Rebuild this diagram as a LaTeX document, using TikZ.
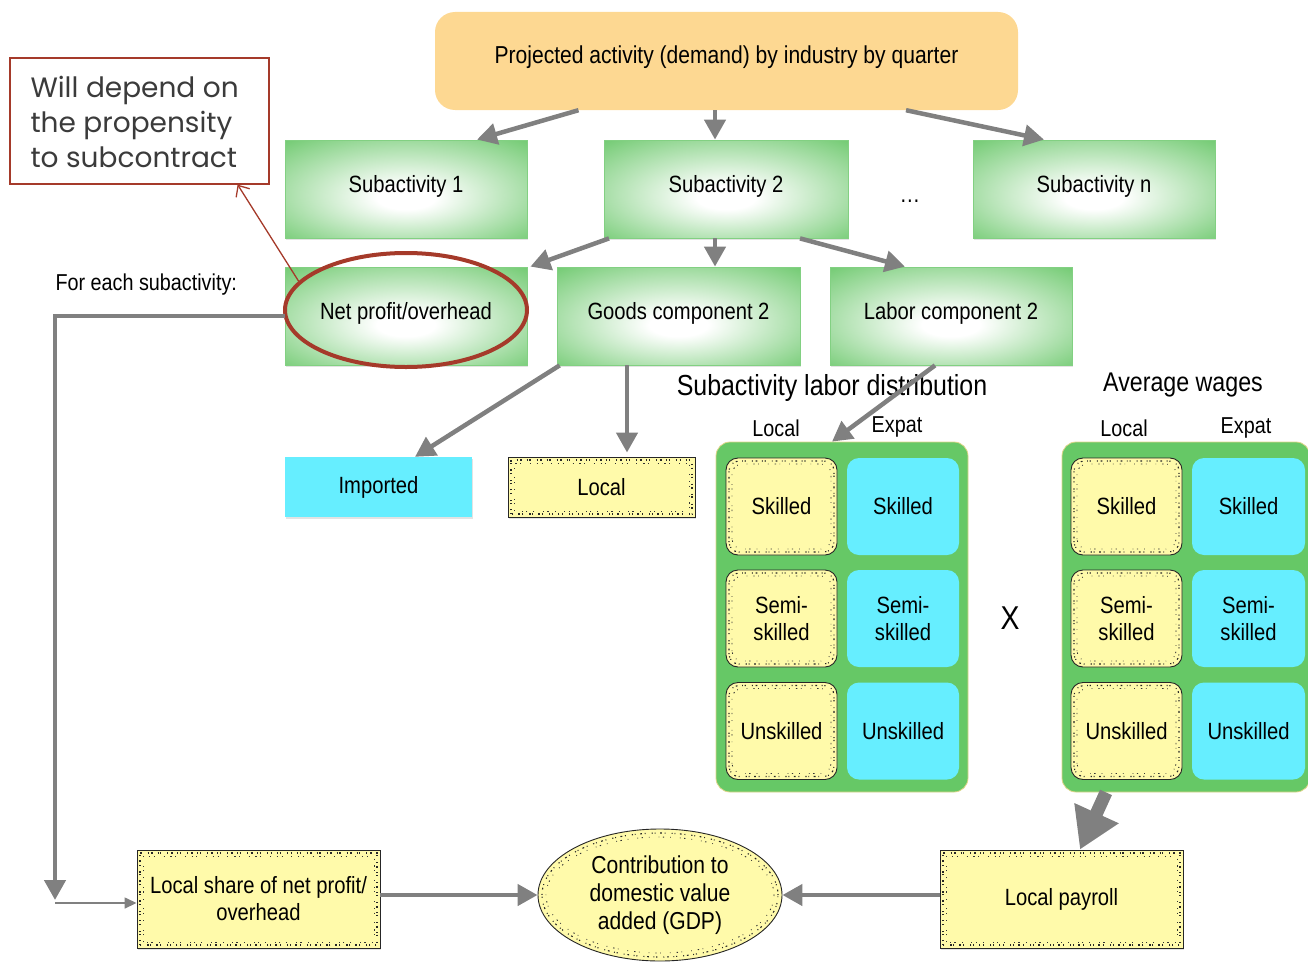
\documentclass[tikz,border=0pt]{standalone}
\usepackage{fontspec}
\setmainfont{Liberation Sans}[FakeStretch=0.86]
\newfontfamily\callfont{Poppins}
\usetikzlibrary{shapes.geometric,arrows.meta,calc,shadows}
\definecolor{orng}{HTML}{FDD892}
\definecolor{grn}{HTML}{6CC86C}
\definecolor{grnbg}{HTML}{66C866}
\definecolor{cyn}{HTML}{66EEFF}
\definecolor{ylw}{HTML}{FFFAAA}
\definecolor{arr}{HTML}{808080}
\definecolor{redc}{HTML}{A53A2A}
\definecolor{calltext}{HTML}{3B3B3B}
\pgfdeclareradialshading{boxglow}{\pgfpoint{0bp}{-5bp}}{color(0bp)=(white); color(6bp)=(white); color(38bp)=(grn); color(50bp)=(grn)}
\begin{document}
\begin{tikzpicture}[x=1pt,y=-1pt,
  soft/.style={drop shadow={shadow xshift=1pt, shadow yshift=-2pt, opacity=0.22}},
  lbl/.style={font=\fontsize{23.5}{27}\selectfont, text=black, align=center},
  gbox/.style={rectangle, lbl, minimum height=98pt, text depth=10pt, soft, shading=boxglow, draw=grn!85!white, line width=0.8pt},
  speck/.style={path picture={
    \draw[black!85, line width=1.1pt, rounded corners=#1,
          dash pattern=on 0.9pt off 2.8pt on 1.8pt off 4.5pt on 0.9pt off 1.8pt on 1.2pt off 6pt]
      ([shift={(3pt,3pt)}]path picture bounding box.south west) rectangle
      ([shift={(-3pt,-3pt)}]path picture bounding box.north east);
    \draw[black!80, line width=0.9pt, rounded corners=#1,
          dash pattern=on 0.7pt off 6pt on 1.4pt off 3.5pt on 0.7pt off 9pt]
      ([shift={(6pt,6pt)}]path picture bounding box.south west) rectangle
      ([shift={(-6pt,-6pt)}]path picture bounding box.north east);
  }},
  speck/.default=0pt,
  ybox/.style={rectangle, lbl, soft, fill=ylw, draw=black!85, line width=0.9pt, speck},
  ycell/.style={rectangle, lbl, fill=ylw, draw=black!85, line width=0.9pt, rounded corners=12pt,
                minimum width=111pt, minimum height=97pt, speck=10pt},
  ccell/.style={rectangle, lbl, fill=cyn, rounded corners=12pt, minimum width=112pt, minimum height=97pt},
  gridbg/.style={rectangle, fill=grnbg, draw=orng!80!grnbg, line width=0.8pt, rounded corners=14pt, minimum height=350pt},
  head/.style={font=\fontsize{23}{27}\selectfont, text=black},
  ttl/.style={font=\fontsize{29}{33}\selectfont, text=black},
  flow/.style={draw=arr, line width=4.5pt, -{Triangle[length=20pt,width=21pt]}},
  redarr/.style={draw=redc, line width=1.3pt, -{Straight Barb[length=9pt,width=16pt]}}
]
\useasboundingbox (0,0) rectangle (1308,966);

% demand box and subactivities
\node[rectangle, lbl, font=\fontsize{24.5}{28}\selectfont, text depth=12pt, fill=orng, rounded corners=20pt,
      minimum width=583pt, minimum height=98pt] (top) at (726.5,61)
      {Projected activity (demand) by industry by quarter};
\node[gbox, minimum width=242pt] (sub1) at (406,189) {Subactivity 1};
\node[gbox, minimum width=244pt] (sub2) at (726,189) {Subactivity 2};
\node[gbox, minimum width=242pt] (subn) at (1094,189) {Subactivity n};
\node[lbl, font=\fontsize{24}{26}\selectfont] (dots) at (910,201) {\dots};

% components of a subactivity
\node[gbox, minimum width=242pt] (net) at (406,316) {Net profit/overhead};
\node[gbox, minimum width=243pt] (goods) at (678.5,316) {Goods component 2};
\node[gbox, minimum width=242pt] (labor) at (951,316) {Labor component 2};
\node[ellipse, draw=redc, line width=4pt, minimum width=242pt, minimum height=114pt, inner sep=0pt]
      (ring) at (406,310) {};
\node[head, anchor=west] (each) at (52,285) {For each subactivity:};

% callout
\node[rectangle, draw=redc, line width=1.2pt, fill=white, minimum width=259pt, minimum height=126pt]
      (callout) at (139.5,121) {};
\node[anchor=west, align=left, font=\callfont\fontsize{28}{35}\selectfont, text=calltext]
      (calltxt) at (27,122) {Will depend on\\the propensity\\to subcontract};
\coordinate (calltip) at ([xshift=-32pt]callout.south east);

% goods split
\node[rectangle, lbl, soft, fill=cyn, minimum width=187pt, minimum height=60pt] (imp) at (378.5,487) {Imported};
\node[ybox, minimum width=187pt, minimum height=60pt] (loc) at (601.5,487) {Local};

% labor distribution grid
\node[ttl] (distttl) at (832,388) {Subactivity labor distribution};
\node[head] (h1l) at (776,428) {Local};
\node[head] (h1e) at (897,427) {Expat};
\node[gridbg, minimum width=252pt] (grid1) at (842,617) {};
\node[ycell] (a11) at (781.5,506.5) {Skilled};
\node[ccell] (a12) at (903,506.5) {Skilled};
\node[ycell] (a21) at (781.5,618.5) {Semi-\\skilled};
\node[ccell] (a22) at (903,618.5) {Semi-\\skilled};
\node[ycell] (a31) at (781.5,731) {Unskilled};
\node[ccell] (a32) at (903,731) {Unskilled};

\node[font=\fontsize{33}{35}\selectfont] (times) at (1010,618) {X};

% average wages grid
\node[ttl, font=\fontsize{27}{31}\selectfont] (wagettl) at (1183,385) {Average wages};
\node[head] (h2l) at (1124,428) {Local};
\node[head] (h2e) at (1246,428) {Expat};
\node[gridbg, minimum width=248pt] (grid2) at (1186,617) {};
\node[ycell] (b11) at (1126.5,506.5) {Skilled};
\node[ccell, minimum width=113pt] (b12) at (1248.5,506.5) {Skilled};
\node[ycell] (b21) at (1126.5,618.5) {Semi-\\skilled};
\node[ccell, minimum width=113pt] (b22) at (1248.5,618.5) {Semi-\\skilled};
\node[ycell] (b31) at (1126.5,731) {Unskilled};
\node[ccell, minimum width=113pt] (b32) at (1248.5,731) {Unskilled};

% value added
\node[ybox, minimum width=243pt, minimum height=98pt] (share) at (258.5,899) {Local share of net profit/\\overhead};
\node[ybox, minimum width=243pt, minimum height=98pt] (pay) at (1061.5,899) {Local payroll};
\node[ellipse, lbl, font=\fontsize{24.5}{28}\selectfont, fill=ylw, draw=black!85, line width=0.9pt,
      minimum width=244pt, minimum height=132pt, inner sep=0pt, path picture={
        \draw[black!85, line width=1.1pt,
              dash pattern=on 0.9pt off 2.8pt on 1.8pt off 4.5pt on 0.9pt off 1.8pt on 1.2pt off 6pt]
          (path picture bounding box.center) ellipse [x radius=118pt, y radius=62pt];
        \draw[black!80, line width=0.9pt, dash pattern=on 0.7pt off 6pt on 1.4pt off 3.5pt on 0.7pt off 9pt]
          (path picture bounding box.center) ellipse [x radius=114pt, y radius=58pt];
      }] (gdp) at (660,895) {Contribution to\\domestic value\\added (GDP)};

% connectors
\draw[flow] ([xshift=-148pt]top.south) -- ([xshift=71pt]sub1.north);
\draw[flow] ([xshift=-11.5pt]top.south) -- ([xshift=-11pt]sub2.north);
\draw[flow] ([xshift=179.5pt]top.south) -- ([xshift=-50pt]subn.north);
\draw[flow] ([xshift=-117pt]sub2.south) -- ([xshift=3pt]net.north east);
\draw[flow] ([xshift=-11pt]sub2.south) -- ([xshift=36.5pt]goods.north);
\draw[flow] ([xshift=74pt]sub2.south) -- ([xshift=-46pt]labor.north);
\draw[flow] ([xshift=3pt]goods.south west) -- ([xshift=36.5pt]imp.north);
\draw[flow] ([xshift=-51.5pt]goods.south) -- ([xshift=25.5pt,yshift=4pt]loc.north);
\draw[flow] ([xshift=-16pt]labor.south) -- ([xshift=-10pt]grid1.north);
\draw[draw=arr, line width=13pt, -{Triangle[length=40pt,width=46pt]}]
      ([xshift=-80pt]grid2.south) -- ([xshift=18.5pt]pay.north);
\draw[flow] (pay.west |- gdp.east) -- (gdp.east);
\draw[flow] (share.east |- gdp.west) -- (gdp.west);
\coordinate (drop) at (55,903);
\draw[flow] (net.west) -| ([yshift=3pt]drop);
\draw[draw=arr, line width=1.5pt, -{Triangle[length=12pt,width=11pt]}] (drop) -- (drop -| share.west);
\draw[redarr] (ring.165) -- (calltip);
\end{tikzpicture}
\end{document}
